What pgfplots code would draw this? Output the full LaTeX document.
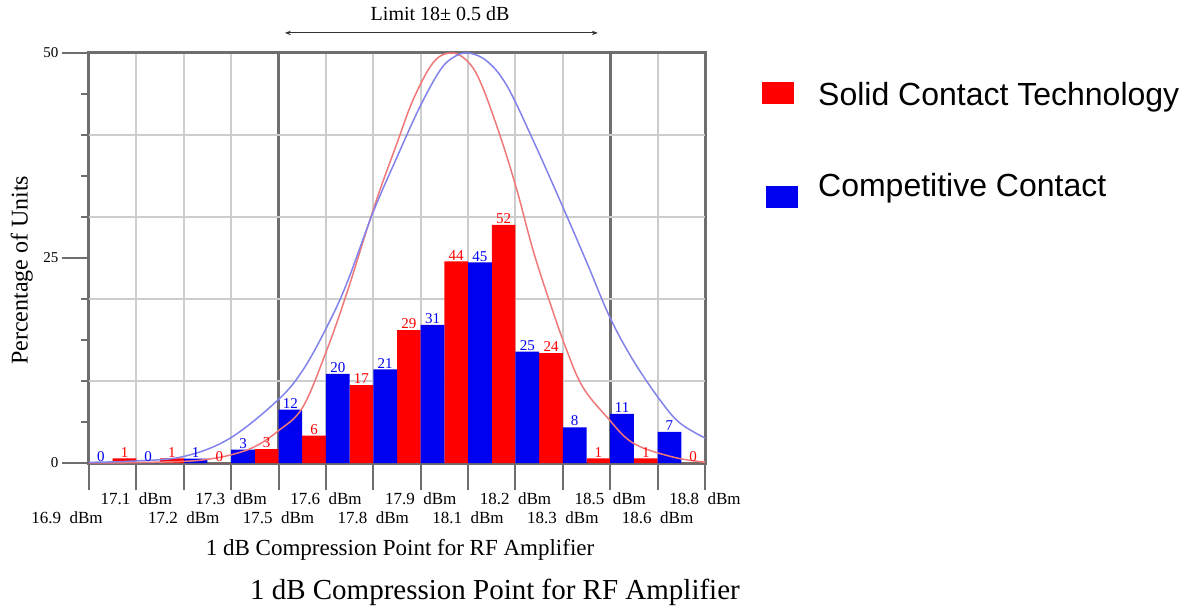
\documentclass[border=0pt]{standalone}
\usepackage{fontspec}
\setmainfont{Liberation Serif}
\newfontfamily\arialf{Liberation Sans}
\usepackage{pgfplots}
\pgfplotsset{compat=1.18}
\usetikzlibrary{arrows.meta}
\definecolor{gridlight}{RGB}{205,205,205}
\definecolor{griddark}{RGB}{110,110,110}
\definecolor{barred}{RGB}{255,0,0}
\definecolor{barblue}{RGB}{0,0,240}
\definecolor{curvered}{RGB}{240,120,120}
\definecolor{curveblue}{RGB}{130,130,235}
\newcommand\fs[1]{\fontsize{#1}{#1}\selectfont}

\begin{document}
\begin{tikzpicture}
\useasboundingbox (-89pt,-147pt) rectangle (1102pt,463pt);
\begin{axis}[
  at={(0pt,0pt)}, anchor=south west,
  scale only axis, width=616pt, height=410pt,
  xmin=0, xmax=13, ymin=0, ymax=50,
  clip=false,
  axis line style={draw=griddark, line width=3pt},
  tick pos=left, tick align=outside,
  major tick length=27pt, minor tick length=8pt,
  tick style={griddark, line width=2pt},
  xtick={0,...,13},
  xticklabels={
    {\strut\\\hspace*{-44pt}\strut 16.9\enspace dBm}, {\strut 17.1\enspace dBm},
    {\strut\\\strut 17.2\enspace dBm}, {\strut 17.3\enspace dBm},
    {\strut\\\strut 17.5\enspace dBm}, {\strut 17.6\enspace dBm},
    {\strut\\\strut 17.8\enspace dBm}, {\strut 17.9\enspace dBm},
    {\strut\\\strut 18.1\enspace dBm}, {\strut 18.2\enspace dBm},
    {\strut\\\strut 18.3\enspace dBm}, {\strut 18.5\enspace dBm},
    {\strut\\\strut 18.6\enspace dBm}, {\strut 18.8\enspace dBm}},
  xticklabel style={align=center, anchor=north, font=\fontsize{17}{19}\selectfont, inner sep=1pt},
  xmajorgrids=true,
  major grid style={gridlight, line width=2pt},
  extra x ticks={4,11}, extra x tick labels={},
  extra x tick style={major grid style={griddark, line width=3pt}},
  ytick={0,25,50},
  minor ytick={5,10,15,20,30,35,40,45},
  yticklabel style={font=\fs{15}},
  /pgf/number format/assume math mode=true,
  extra y ticks={10,20,30,40}, extra y tick labels={},
  extra y tick style={ymajorgrids=true, major tick length=0pt, major grid style={gridlight, line width=2pt}},
  ylabel={Percentage of Units},
  ylabel style={font=\fs{24}, at={(axis description cs:-0.109,0.47)}, anchor=center},
  xlabel={1 dB Compression Point for RF Amplifier},
  xlabel style={font=\fs{23}, at={(axis description cs:0.505,-0.212)}, anchor=center},
  legend style={at={(axis description cs:1.0876,0.938)}, anchor=north west,
    draw=none, fill=none, font=\arialf\fs{32}, row sep=62pt,
    nodes={inner sep=2pt}},
  legend cell align=left,
]
% Solid Contact Technology (counts / 179 units)
\addplot[ybar, bar width=0.5, bar shift=0pt, fill=barred, draw=none,
  nodes near coords, point meta=explicit symbolic,
  nodes near coords style={text=barred, font=\fs{15}, inner sep=1pt},
  legend image code/.code={\fill[barred] (0pt,-9pt) rectangle (32pt,13pt);
    \path (54pt,0pt);}]
  coordinates {
  (0.75,0.56)[1] (1.75,0.56)[1] (2.75,0)[0] (3.75,1.68)[3] (4.75,3.35)[6]
  (5.75,9.50)[17] (6.75,16.20)[29] (7.75,24.58)[44] (8.75,29.05)[52]
  (9.75,13.41)[24] (10.75,0.56)[1] (11.75,0.56)[1] (12.75,0)[0]};
\addlegendentry{Solid Contact Technology}
% Competitive Contact (counts / 184 units)
\addplot[ybar, bar width=0.5, bar shift=0pt, fill=barblue, draw=none,
  nodes near coords, point meta=explicit symbolic,
  nodes near coords style={text=barblue, font=\fs{15}, inner sep=1pt},
  legend image code/.code={\fill[barblue] (4pt,-22pt) rectangle (36pt,0pt);
    \path (54pt,0pt);}]
  coordinates {
  (0.25,0)[0] (1.25,0)[0] (2.25,0.54)[1] (3.25,1.63)[3] (4.25,6.52)[12]
  (5.25,10.87)[20] (6.25,11.41)[21] (7.25,16.85)[31] (8.25,24.46)[45]
  (9.25,13.59)[25] (10.25,4.35)[8] (11.25,5.98)[11] (12.25,3.80)[7]};
\addlegendentry{Competitive Contact}
% fitted curves
\addplot[curvered, line width=1.5pt, smooth, tension=0.6, forget plot] coordinates {
  (0,0) (1,0.05) (2,0.2) (2.5,0.45) (3,1.0) (3.5,2.0) (3.99,3.9) (4.51,6.8)
  (5.02,13.8) (5.44,20.7) (5.86,28.4) (6.14,33.3) (6.50,39.0) (6.84,44.3)
  (7.26,48.8) (7.62,50) (7.95,49.2) (8.25,46.6) (8.67,40.0) (9.03,33.29)
  (9.37,25.98) (9.73,19.51) (10.08,13.78) (10.42,9.27) (10.93,5.61)
  (11.48,2.44) (12.32,0.73) (13,0.1)};
\addplot[curveblue, line width=1.5pt, smooth, tension=0.6, forget plot] coordinates {
  (0,0.08) (1,0.25) (2,0.8) (2.97,3.0) (3.99,7.7) (4.51,11.3) (5.02,16.6)
  (5.44,21.9) (5.99,30.5) (6.50,37.3) (6.98,43.4) (7.41,47.9) (7.7,49.5)
  (8.0,50) (8.4,49.0) (8.82,46.0) (9.37,39.39) (10.0,31.22) (10.51,24.39)
  (10.99,17.80) (11.48,12.56) (12.05,7.68) (12.47,4.88) (13.0,3.05)};
\draw[{Stealth[length=6pt]}-{Stealth[length=6pt]}, line width=1pt, black!80]
  (axis description cs:0.318,1.049) -- (axis description cs:0.826,1.049);
\node[font=\fs{20}] at (axis description cs:0.570,1.095) {Limit 18± 0.5 dB};
\node[font=\fs{29}] at (axis description cs:0.659,-0.315) {1 dB Compression Point for RF Amplifier};
\end{axis}
\end{tikzpicture}
\end{document}
